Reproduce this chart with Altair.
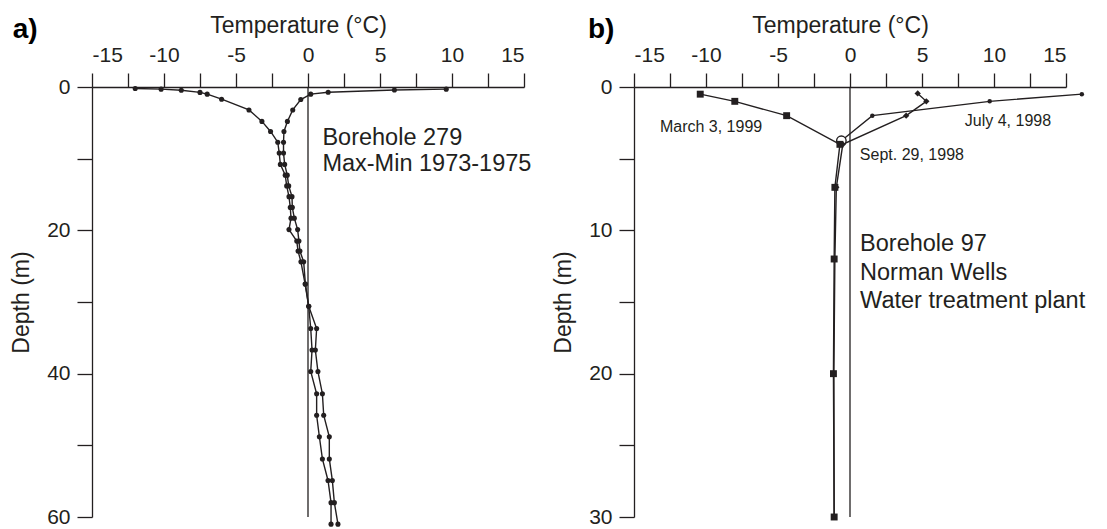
import altair as alt
import pandas as pd

# ---------------- Panel a: Borehole 279, Max-Min 1973-1975 ----------------
a_depth_min = [0.2, 0.3, 0.45, 0.75, 1.0, 1.7, 3.2, 4.8, 6.2, 7.7, 9.2, 10.8, 12.3, 13.8, 15.3,
               16.8, 18.3, 19.9, 21.5, 22.9, 24.4, 27.5, 30.6, 33.7, 36.7, 39.7, 42.8, 45.8,
               48.8, 51.9, 54.9, 58.0, 61.0]
a_temp_min = [-12.0, -10.2, -8.8, -7.5, -7.0, -6.0, -4.1, -3.2, -2.6, -2.1, -2.0, -1.92, -1.58,
              -1.48, -1.32, -1.23, -1.18, -1.32, -0.78, -0.69, -0.49, -0.2, 0.05, 0.19, 0.28,
              0.19, 0.6, 0.6, 0.79, 1.0, 1.39, 1.6, 1.6]
a_depth_max = [0.3, 0.42, 0.74, 1.0, 1.75, 3.2, 4.8, 6.2, 7.7, 9.2, 10.8, 12.3, 13.8, 15.3, 16.8,
               18.3, 19.9, 21.5, 22.9, 24.4, 27.5, 30.6, 33.7, 36.7, 39.7, 42.8, 45.8, 48.8,
               51.9, 54.9, 58.0, 61.0]
a_temp_max = [9.6, 6.0, 1.4, 0.19, -0.5, -1.06, -1.43, -1.67, -1.7, -1.7, -1.62, -1.44, -1.34,
              -1.11, -1.09, -0.95, -0.72, -0.63, -0.56, -0.3, -0.18, 0.05, 0.6, 0.51, 0.69, 1.0,
              1.09, 1.48, 1.48, 1.69, 1.83, 2.08]

# ---------------- Panel b: Borehole 97, Norman Wells ----------------
b_depth_march = [0.5, 1, 2, 4, 7, 12, 20, 30]
b_temp_march = [-10.4, -8.0, -4.4, -0.7, -1.05, -1.1, -1.15, -1.1]
b_depth_july = [0.5, 1, 2, 3.75]
b_temp_july = [16.1, 9.7, 1.55, -0.6]
b_depth_sept = [0.45, 1, 2, 4, 7, 12, 20, 30]
b_temp_sept = [4.7, 5.3, 3.9, -0.5, -0.95, -1.05, -1.12, -1.1]

x_tick_values = [-15, -12.5, -10, -7.5, -5, -2.5, 0, 2.5, 5, 7.5, 10, 12.5, 15]
a_depth_ticks = [0, 10, 20, 30, 40, 50, 60]
b_depth_ticks = [0, 5, 10, 15, 20, 25, 30]

FONT = "Liberation Sans"
INK = "#231f20"
PW, PH = 432, 430


def enc_x():
    return alt.X("T:Q", scale=alt.Scale(domain=[-15, 15], nice=False, zero=False),
                 axis=alt.Axis(orient="top", values=x_tick_values,
                               labelExpr="datum.value % 5 == 0 ? '' + datum.value : ''",
                               title="Temperature (°C)", tickSize=14, labelPadding=8,
                               titlePadding=7, titleX=PW / 2 - 10, grid=False))


def enc_y(dmax, ticks, lab_step):
    return alt.Y("D:Q", scale=alt.Scale(domain=[0, dmax], reverse=True, nice=False, zero=False),
                 axis=alt.Axis(values=ticks,
                               labelExpr=f"datum.value % {lab_step} == 0 ? '' + datum.value : ''",
                               title="Depth (m)", tickSize=15, labelPadding=7,
                               titlePadding=13, grid=False))


def profile(depths, temps, series):
    return pd.DataFrame({"D": depths, "T": temps, "s": series, "i": list(range(len(depths)))})


# ----- panel a -----
df_a = pd.concat([profile(a_depth_min, a_temp_min, "min"),
                  profile(a_depth_max, a_temp_max, "max")])
xa, ya = enc_x(), enc_y(60, a_depth_ticks, 20)

a_line = alt.Chart(df_a).mark_line(color=INK, strokeWidth=1.4).encode(
    x=xa, y=ya, detail="s:N", order="i:Q")
a_pts = alt.Chart(df_a).mark_circle(color=INK, size=26, opacity=1).encode(x=xa, y=ya)
a_rule = alt.Chart(pd.DataFrame({"T": [0], "D": [0], "D2": [60]})).mark_rule(
    color=INK, strokeWidth=1.3).encode(x=xa, y=ya, y2="D2:Q")
a_text = alt.Chart(pd.DataFrame({"T": [1.0, 1.0], "D": [7.1, 10.7],
                                 "txt": ["Borehole 279", "Max-Min 1973-1975"]})).mark_text(
    align="left", baseline="middle", font=FONT, fontSize=23.5, color=INK).encode(
    x=xa, y=ya, text="txt:N")
a_tag = alt.Chart(pd.DataFrame({"T": [-20.5], "D": [-7.9], "txt": ["a)"]})).mark_text(
    align="left", baseline="middle", font=FONT, fontSize=28, fontWeight="bold",
    color="#000000").encode(x=xa, y=ya, text="txt:N")

panel_a = alt.layer(a_rule, a_line, a_pts, a_text, a_tag).properties(width=PW, height=PH)

# ----- panel b -----
df_b = pd.concat([profile(b_depth_march, b_temp_march, "march"),
                  profile(b_depth_sept, b_temp_sept, "sept"),
                  profile(b_depth_july, b_temp_july, "july")])
xb, yb = enc_x(), enc_y(30, b_depth_ticks, 10)

b_line = alt.Chart(df_b).mark_line(color=INK, strokeWidth=1.4).encode(
    x=xb, y=yb, detail="s:N", order="i:Q")
b_sq = alt.Chart(profile(b_depth_march, b_temp_march, "march")).mark_point(
    shape="square", filled=True, color=INK, size=48, opacity=1).encode(x=xb, y=yb)
b_dia = alt.Chart(profile(b_depth_sept[:5], b_temp_sept[:5], "sept")).mark_point(
    shape="diamond", filled=True, color=INK, size=40, opacity=1).encode(x=xb, y=yb)
b_dot = alt.Chart(profile(b_depth_july[:3], b_temp_july[:3], "july")).mark_circle(
    color=INK, size=20, opacity=1).encode(x=xb, y=yb)
b_open = alt.Chart(profile(b_depth_july[3:], b_temp_july[3:], "july")).mark_point(
    shape="circle", filled=True, fill="white", stroke=INK, strokeWidth=1.4, size=90,
    opacity=1).encode(x=xb, y=yb)
b_rule = alt.Chart(pd.DataFrame({"T": [0], "D": [0], "D2": [30]})).mark_rule(
    color=INK, strokeWidth=1.3).encode(x=xb, y=yb, y2="D2:Q")
b_small = alt.Chart(pd.DataFrame({"T": [-9.65, 10.97, 4.3], "D": [2.8, 2.38, 4.77],
                                  "txt": ["March 3, 1999", "July 4, 1998", "Sept. 29, 1998"]})
                    ).mark_text(align="center", baseline="middle", font=FONT, fontSize=16,
                                color=INK).encode(x=xb, y=yb, text="txt:N")
b_text = alt.Chart(pd.DataFrame({"T": [0.7, 0.7, 0.7], "D": [10.97, 12.99, 14.93],
                                 "txt": ["Borehole 97", "Norman Wells", "Water treatment plant"]})
                   ).mark_text(align="left", baseline="middle", font=FONT, fontSize=23.5,
                               color=INK).encode(x=xb, y=yb, text="txt:N")
b_tag = alt.Chart(pd.DataFrame({"T": [-18.2], "D": [-3.96], "txt": ["b)"]})).mark_text(
    align="left", baseline="middle", font=FONT, fontSize=28, fontWeight="bold",
    color="#000000").encode(x=xb, y=yb, text="txt:N")

panel_b = alt.layer(b_rule, b_line, b_open, b_sq, b_dia, b_dot, b_small, b_text, b_tag
                    ).properties(width=PW, height=PH)

chart = alt.hconcat(panel_a, panel_b, spacing=110, bounds="flush").properties(
    padding={"left": 2, "top": 6, "right": 0, "bottom": 0}
).configure_view(stroke=None).configure_axis(
    domainColor=INK, tickColor=INK, domainWidth=1.3, tickWidth=1.3,
    labelFont=FONT, titleFont=FONT, labelFontSize=21, titleFontSize=23,
    labelColor=INK, titleColor=INK, titleFontWeight="normal"
)

chart.save("out.html", embed_options={"renderer": "svg", "actions": False})
